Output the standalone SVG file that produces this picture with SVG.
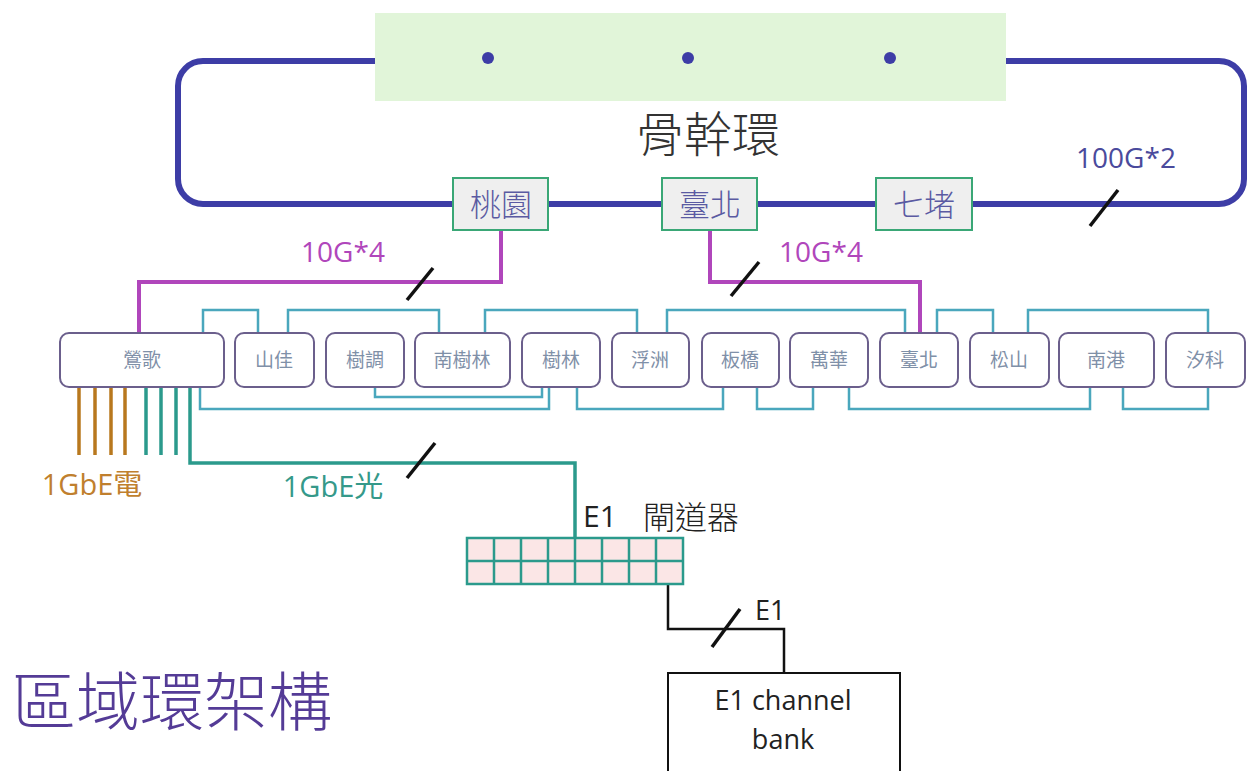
<svg xmlns="http://www.w3.org/2000/svg" width="1252" height="771" viewBox="0 0 1252 771">
<style>
text{font-family:"Open Sans","Noto Sans CJK TC",sans-serif;dominant-baseline:central}
.cjk{font-family:"Noto Sans CJK TC","Noto Sans",sans-serif;font-weight:300}
.ring{fill:none;stroke:#3d3da6;stroke-width:6}
.st rect{fill:#efefef;stroke:#3aa776;stroke-width:2}
.st text{fill:#5a5aa2;font-size:31px;text-anchor:middle;font-weight:300}
.sm rect{fill:#fff;stroke:#6b5f8c;stroke-width:2}
.sm text{fill:#7f90a8;font-size:19px;text-anchor:middle}
.cy{fill:none;stroke:#4aa7bd;stroke-width:2.5}
.mg{fill:none;stroke:#b046bb;stroke-width:4}
.cu{stroke:#b8781e;stroke-width:3.5}
.tl{fill:none;stroke:#2b9a8c;stroke-width:3.5}
.bk{fill:none;stroke:#111;stroke-width:2.5}
.sl{stroke:#111;stroke-width:3.5}
</style>
<rect width="1252" height="771" fill="#fff"/>
<g id="connectors">
<rect class="ring" x="178" y="61" width="1066" height="143" rx="25"/>
<path class="mg" d="M501,230 V282 H139 V333"/>
<path class="mg" d="M710,230 V282 H920 V333"/>
<line class="sl" x1="407" y1="300" x2="433" y2="268"/>
<line class="sl" x1="731" y1="296" x2="759" y2="262"/>
<line class="sl" x1="1090" y1="226" x2="1118" y2="190"/>
<path class="cy" d="M203,333 V310 H258 V333"/>
<path class="cy" d="M288,333 V310 H439 V333"/>
<path class="cy" d="M485,333 V310 H637 V333"/>
<path class="cy" d="M667,333 V310 H905 V333"/>
<path class="cy" d="M937,333 V310 H993 V333"/>
<path class="cy" d="M1028,333 V310 H1208 V333"/>
<path class="cy" d="M200,387 V409 H549 V387"/>
<path class="cy" d="M375,387 V397 H542 V387"/>
<path class="cy" d="M577,387 V409 H723 V387"/>
<path class="cy" d="M757,387 V409 H813 V387"/>
<path class="cy" d="M849,387 V409 H1090 V387"/>
<path class="cy" d="M1123,387 V409 H1208 V387"/>
<line class="cu" x1="79" y1="387" x2="79" y2="455"/>
<line class="cu" x1="95" y1="387" x2="95" y2="455"/>
<line class="cu" x1="111" y1="387" x2="111" y2="455"/>
<line class="cu" x1="125" y1="387" x2="125" y2="455"/>
<line class="tl" x1="146" y1="387" x2="146" y2="455"/>
<line class="tl" x1="161" y1="387" x2="161" y2="455"/>
<line class="tl" x1="176" y1="387" x2="176" y2="455"/>
<path class="tl" d="M190,387 V463 H575 V538"/>
<line class="sl" x1="407" y1="478" x2="435" y2="443"/>
<path class="bk" d="M668,584 V629 H784 V673"/>
<line class="sl" x1="712" y1="647" x2="740" y2="609"/>
</g>
<g id="backbone-area">
<rect x="375" y="13" width="631" height="88" fill="#e1f5d9"/>
<circle cx="488" cy="58" r="6" fill="#3d3da6"/>
<circle cx="688" cy="58" r="6" fill="#3d3da6"/>
<circle cx="890" cy="58" r="6" fill="#3d3da6"/>
<text class="cjk" x="708" y="131" font-size="48" fill="#333" text-anchor="middle">骨幹環</text>
<text x="1126" y="157" font-size="28" fill="#4a4a9c" text-anchor="middle">100G*2</text>
</g>
<g id="n-taoyuan" class="st"><rect x="453" y="178" width="95" height="52"/><text x="501" y="204">桃園</text></g>
<g id="n-taipei-bb" class="st"><rect x="662" y="178" width="95" height="52"/><text x="710" y="204">臺北</text></g>
<g id="n-qidu" class="st"><rect x="876" y="178" width="96" height="52"/><text x="924" y="204">七堵</text></g>
<text x="343" y="251" font-size="28" fill="#b046bb" text-anchor="middle">10G*4</text>
<text x="821" y="251" font-size="28" fill="#b046bb" text-anchor="middle">10G*4</text>
<g id="s-yingge" class="sm"><rect x="60" y="333" width="164" height="54" rx="9"/><text x="142" y="360">鶯歌</text></g>
<g id="s-shanjia" class="sm"><rect x="235" y="333" width="79" height="54" rx="9"/><text x="274" y="360">山佳</text></g>
<g id="s-shudiao" class="sm"><rect x="326" y="333" width="78" height="54" rx="9"/><text x="365" y="360">樹調</text></g>
<g id="s-nanshulin" class="sm"><rect x="415" y="333" width="95" height="54" rx="9"/><text x="462" y="360">南樹林</text></g>
<g id="s-shulin" class="sm"><rect x="522" y="333" width="78" height="54" rx="9"/><text x="561" y="360">樹林</text></g>
<g id="s-fuzhou" class="sm"><rect x="612" y="333" width="77" height="54" rx="9"/><text x="650" y="360">浮洲</text></g>
<g id="s-banqiao" class="sm"><rect x="702" y="333" width="77" height="54" rx="9"/><text x="740" y="360">板橋</text></g>
<g id="s-wanhua" class="sm"><rect x="790" y="333" width="78" height="54" rx="9"/><text x="829" y="360">萬華</text></g>
<g id="s-taipei" class="sm"><rect x="880" y="333" width="78" height="54" rx="9"/><text x="919" y="360">臺北</text></g>
<g id="s-songshan" class="sm"><rect x="970" y="333" width="79" height="54" rx="9"/><text x="1009" y="360">松山</text></g>
<g id="s-nangang" class="sm"><rect x="1059" y="333" width="95" height="54" rx="9"/><text x="1106" y="360">南港</text></g>
<g id="s-xike" class="sm"><rect x="1166" y="333" width="79" height="54" rx="9"/><text x="1205" y="360">汐科</text></g>
<text x="92" y="483" font-size="29" fill="#c07f2e" text-anchor="middle">1GbE電</text>
<text x="333" y="485" font-size="29" fill="#35998a" text-anchor="middle">1GbE光</text>
<g id="gateway">
<rect x="467" y="538" width="216" height="46" fill="#fbe6e6" stroke="#2b9a8c" stroke-width="2.5"/>
<path d="M494,538 V584 M521,538 V584 M548,538 V584 M575,538 V584 M602,538 V584 M629,538 V584 M656,538 V584 M467,561 H683" stroke="#2b9a8c" stroke-width="2.5" fill="none"/>
<text x="583" y="515" font-size="30" fill="#222">E1<tspan x="643" font-size="32" font-weight="300" font-family="Noto Sans CJK TC, sans-serif">閘道器</tspan></text>
</g>
<text x="755" y="609" font-size="27" fill="#222">E1</text>
<g id="channel-bank">
<rect x="668" y="673" width="232" height="110" fill="#fff" stroke="#111" stroke-width="2"/>
<text x="783" y="699" font-size="27" fill="#222" text-anchor="middle">E1 channel</text>
<text x="783" y="738" font-size="27" fill="#222" text-anchor="middle">bank</text>
</g>
<text class="cjk" x="12" y="697" font-size="64" fill="#543b96">區域環架構</text>
</svg>
